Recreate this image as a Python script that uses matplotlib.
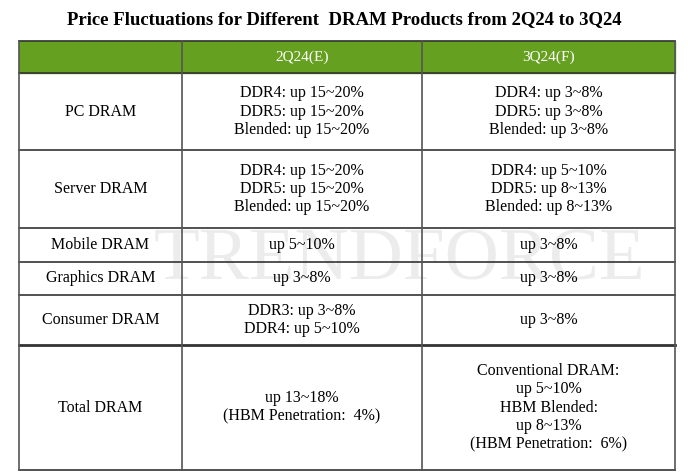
import matplotlib.pyplot as plt
from matplotlib.patches import Rectangle

title = "Price Fluctuations for Different  DRAM Products from 2Q24 to 3Q24"
headers = ["", "2Q24(E)", "3Q24(F)"]
products = ["PC DRAM", "Server DRAM", "Mobile DRAM", "Graphics DRAM",
            "Consumer DRAM", "Total DRAM"]
q2 = [
    "DDR4: up 15~20%\nDDR5: up 15~20%\nBlended: up 15~20%",
    "DDR4: up 15~20%\nDDR5: up 15~20%\nBlended: up 15~20%",
    "up 5~10%",
    "up 3~8%",
    "DDR3: up 3~8%\nDDR4: up 5~10%",
    "up 13~18%\n(HBM Penetration:  4%)",
]
q3 = [
    "DDR4: up 3~8%\nDDR5: up 3~8%\nBlended: up 3~8%",
    "DDR4: up 5~10%\nDDR5: up 8~13%\nBlended: up 8~13%",
    "up 3~8%",
    "up 3~8%",
    "up 3~8%",
    "Conventional DRAM:\nup 5~10%\nHBM Blended:\nup 8~13%\n(HBM Penetration:  6%)",
]

W, H = 688, 474
fig = plt.figure(figsize=(W / 100, H / 100), dpi=100)
ax = fig.add_axes([0, 0, 1, 1])
ax.set_xlim(0, W)
ax.set_ylim(H, 0)
ax.axis("off")

font = "Liberation Serif"
cols = [19, 182, 422, 675]
rows = [41, 73, 150, 228, 262, 295, 345, 470]

ax.text(W / 2, 20, title, ha="center", va="center", fontsize=13.5,
        fontweight="bold", family=font)

# faint watermark behind the cells
ax.text(400, 262, "TRENDFORCE", ha="center", va="center", fontsize=54,
        family=font, color="#ececec", zorder=0)

# header
ax.add_patch(Rectangle((cols[0], rows[0]), cols[-1] - cols[0], rows[1] - rows[0],
                       color="#66a020", zorder=1))
for j, h in enumerate(headers):
    ax.text((cols[j] + cols[j + 1]) / 2, (rows[0] + rows[1]) / 2, h,
            ha="center", va="center", color="white", fontsize=11, family=font)

for i, name in enumerate(products):
    yc = (rows[i + 1] + rows[i + 2]) / 2
    for j, txt in enumerate([name, q2[i], q3[i]]):
        ax.text((cols[j] + cols[j + 1]) / 2, yc, txt, ha="center", va="center",
                fontsize=11.5, family=font, linespacing=1.2, zorder=3)

# grid lines
for y in rows:
    lw = 2 if y == 345 else 1.2
    ax.plot([cols[0], cols[-1]], [y, y], color="#333333", lw=lw, zorder=2)
for x in cols:
    ax.plot([x, x], [rows[0], rows[-1]], color="#555555", lw=1.2, zorder=2)

fig.savefig("out.png", dpi=100)
